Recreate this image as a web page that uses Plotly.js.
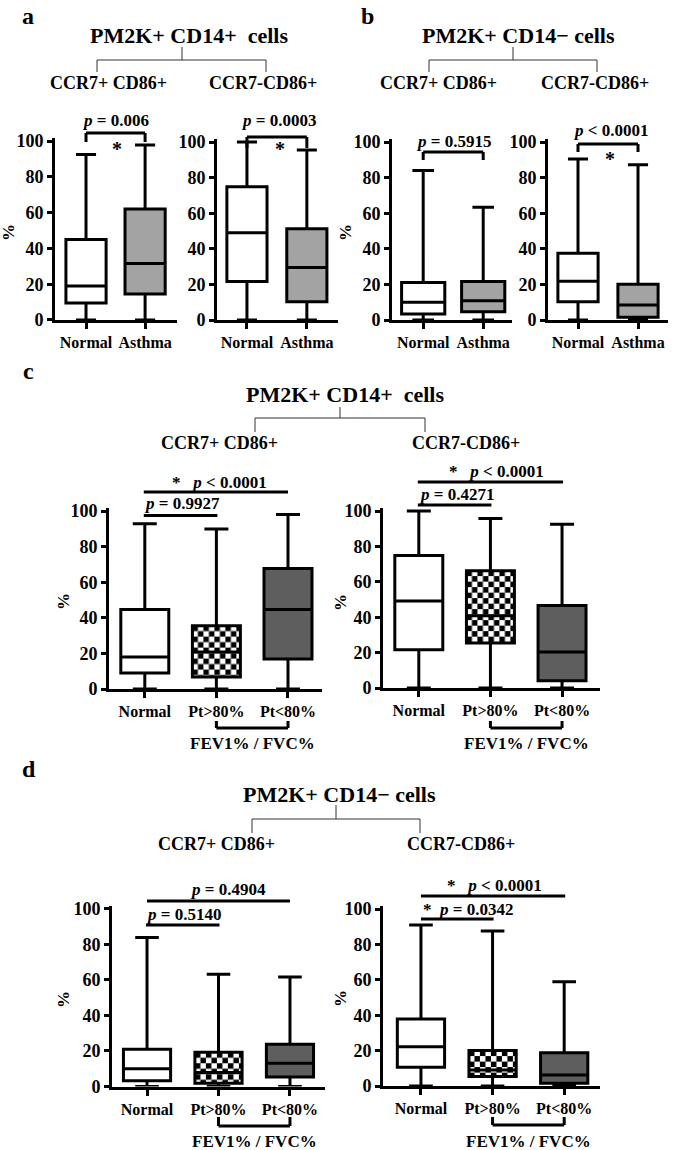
<!DOCTYPE html>
<html><head><meta charset="utf-8">
<script src="https://cdn.plot.ly/plotly-3.0.1.min.js"></script>
<style>html,body{margin:0;padding:0;background:#fff}#g{width:675px;height:1150px}</style>
</head><body><div id="g"></div>
<script>
// ---------- data ----------
const catsAB = ['Normal', 'Asthma'];
const catsCD = ['Normal', 'Pt>80%', 'Pt<80%'];
const yTicks = [0, 20, 40, 60, 80, 100];

// a: PM2K+ CD14+ cells, CCR7+ CD86+
const a1_upper = [92.4, 97.7], a1_q3 = [45, 62], a1_med = [19, 31.5], a1_q1 = [9.5, 14.5], a1_lower = [0, 0];
// a: PM2K+ CD14+ cells, CCR7-CD86+
const a2_upper = [100, 95.5], a2_q3 = [74.8, 51.2], a2_med = [49, 29.5], a2_q1 = [21.6, 10.3], a2_lower = [0, 0];
// b: PM2K+ CD14- cells, CCR7+ CD86+
const b1_upper = [84, 63.4], b1_q3 = [21, 21.6], b1_med = [10, 10.8], b1_q1 = [3.4, 4.7], b1_lower = [0, 0];
// b: PM2K+ CD14- cells, CCR7-CD86+
const b2_upper = [90.5, 87.2], b2_q3 = [37.5, 20.1], b2_med = [21.8, 8.4], b2_q1 = [10.2, 1.5], b2_lower = [0, 0];
// c: PM2K+ CD14+ cells, CCR7+ CD86+
const c1_upper = [92.9, 89.9, 98], c1_q3 = [44.6, 35.6, 67.7], c1_med = [18, 20.8, 44.6], c1_q1 = [9, 6.8, 16.9], c1_lower = [0, 0, 0];
// c: PM2K+ CD14+ cells, CCR7-CD86+
const c2_upper = [100, 95.7, 92.5], c2_q3 = [74.8, 66.3, 46.6], c2_med = [49.2, 40.8, 20.3], c2_q1 = [21.6, 25.4, 4.1], c2_lower = [0, 0, 0];
// d: PM2K+ CD14- cells, CCR7+ CD86+
const d1_upper = [84, 63.2, 61.7], d1_q3 = [21, 19.3, 23.8], d1_med = [10, 7.9, 13.1], d1_q1 = [3.2, 1.9, 5.3], d1_lower = [0, 0, 0];
// d: PM2K+ CD14- cells, CCR7-CD86+
const d2_upper = [91, 87.6, 58.9], d2_q3 = [37.9, 20, 18.8], d2_med = [22.2, 9, 6.2], d2_q1 = [10.6, 5.3, 1.5], d2_lower = [0, 0, 0];

const pA = ['<i>p</i> = 0.006', '<i>p</i> = 0.0003'];
const pB = ['<i>p</i> = 0.5915', '<i>p</i> &lt; 0.0001'];
const pC = ['*\u00a0\u00a0\u00a0<i>p</i> &lt; 0.0001', '<i>p</i> = 0.9927', '*\u00a0\u00a0\u00a0<i>p</i> &lt; 0.0001', '<i>p</i> = 0.4271'];
const pD = ['<i>p</i> = 0.4904', '<i>p</i> = 0.5140', '*\u00a0\u00a0\u00a0<i>p</i> &lt; 0.0001', '*\u00a0\u00a0<i>p</i> = 0.0342'];

const titlePos = 'PM2K+ CD14+\u00a0\u00a0cells';
const titleNeg = 'PM2K+ CD14\u2212\u00a0cells';
const subLabels = ['CCR7+ CD86+', 'CCR7-CD86+'];
const fevLabel = 'FEV1% / FVC%';

// ---------- styling / layout ----------
const W = 675, H = 1150;
const FONT = 'Liberation Serif, Times New Roman, serif';
const fillAB = ['#ffffff', '#a3a3a3'];
const fillCD = ['#ffffff', 'checker', '#5e5e5e'];

const panels = [
  {cats: catsAB, up: a1_upper, q3: a1_q3, med: a1_med, q1: a1_q1, lo: a1_lower, fills: fillAB, xpx: [55, 177], ypx: [141, 320], xr: [-0.525, 1.54], bw: 0.68, pct: [9, 233]},
  {cats: catsAB, up: a2_upper, q3: a2_q3, med: a2_med, q1: a2_q1, lo: a2_lower, fills: fillAB, xpx: [217, 338], ypx: [142, 320], xr: [-0.5, 1.52], bw: 0.67, pct: null},
  {cats: catsAB, up: b1_upper, q3: b1_q3, med: b1_med, q1: b1_q1, lo: b1_lower, fills: fillAB, xpx: [392, 512], ypx: [142, 320], xr: [-0.52, 1.48], bw: 0.72, pct: [346, 233]},
  {cats: catsAB, up: b2_upper, q3: b2_q3, med: b2_med, q1: b2_q1, lo: b2_lower, fills: fillAB, xpx: [548, 668], ypx: [142, 320], xr: [-0.5, 1.5], bw: 0.67, pct: null},
  {cats: catsCD, up: c1_upper, q3: c1_q3, med: c1_med, q1: c1_q1, lo: c1_lower, fills: fillCD, xpx: [109, 322], ypx: [511, 689], xr: [-0.5, 2.475], bw: 0.67, pct: [63, 602]},
  {cats: catsCD, up: c2_upper, q3: c2_q3, med: c2_med, q1: c2_q1, lo: c2_lower, fills: fillCD, xpx: [383, 600], ypx: [511, 688], xr: [-0.5, 2.53], bw: 0.67, pct: [340, 602]},
  {cats: catsCD, up: d1_upper, q3: d1_q3, med: d1_med, q1: d1_q1, lo: d1_lower, fills: fillCD, xpx: [112, 325], ypx: [909, 1086.5], xr: [-0.49, 2.49], bw: 0.66, pct: [63, 1000]},
  {cats: catsCD, up: d2_upper, q3: d2_q3, med: d2_med, q1: d2_q1, lo: d2_lower, fills: fillCD, xpx: [383, 600], ypx: [909, 1086], xr: [-0.53, 2.5], bw: 0.66, pct: [340, 998]}
];

const data = [], shapes = [], annotations = [], images = [];
const layout = {
  width: W, height: H, margin: {l: 0, r: 0, t: 0, b: 0},
  paper_bgcolor: '#ffffff', plot_bgcolor: 'rgba(0,0,0,0)',
  showlegend: false, boxmode: 'overlay',
  font: {family: FONT, color: '#000'}
};

function fx(px) { return px / W; }
function fy(py) { return 1 - py / H; }

function checker(w, h) {
  const s = 5.5, t = 2 * s;
  const svg = `<svg xmlns="http://www.w3.org/2000/svg" width="${w.toFixed(1)}" height="${h.toFixed(1)}" viewBox="0 0 ${w.toFixed(1)} ${h.toFixed(1)}" preserveAspectRatio="none">` +
    `<defs><pattern id="k" width="${t}" height="${t}" patternUnits="userSpaceOnUse">` +
    `<rect width="${t}" height="${t}" fill="#fff"/><rect width="${s}" height="${s}" fill="#000"/><rect x="${s}" y="${s}" width="${s}" height="${s}" fill="#000"/>` +
    `</pattern></defs><rect width="100%" height="100%" fill="url(#k)"/></svg>`;
  return 'data:image/svg+xml;charset=utf-8,' + encodeURIComponent(svg);
}

function txt(text, x, y, size, extra) {
  annotations.push(Object.assign({
    text: '<b>' + text + '</b>', xref: 'paper', yref: 'paper', x: fx(x), y: fy(y),
    xanchor: 'center', yanchor: 'middle', showarrow: false,
    font: {family: FONT, size: size, color: '#000'}
  }, extra || {}));
}
function line(x0, y0, x1, y1, w, c) {
  shapes.push({type: 'line', xref: 'paper', yref: 'paper', x0: fx(x0), y0: fy(y0), x1: fx(x1), y1: fy(y1),
    line: {color: c || '#000', width: w}});
}
function bracketDown(x0, x1, yTop, yEnd, w, c) {
  line(x0, yTop, x1, yTop, w, c);
  line(x0, yTop, x0, yEnd, w, c);
  line(x1, yTop, x1, yEnd, w, c);
}

panels.forEach((p, k) => {
  const sfx = k === 0 ? '' : String(k + 1);
  const yPerUnit = (p.ypx[1] - p.ypx[0]) / 100;
  const yTopPx = p.ypx[0] - 1.5 * yPerUnit;
  const pxPerX = (p.xpx[1] - p.xpx[0]) / (p.xr[1] - p.xr[0]);
  p.catPx = i => p.xpx[0] + (i - p.xr[0]) * pxPerX;

  layout['xaxis' + sfx] = {
    domain: [p.xpx[0] / W, p.xpx[1] / W], anchor: 'y' + sfx,
    type: 'category', categoryorder: 'array', categoryarray: p.cats, range: p.xr,
    showline: true, linewidth: 3, linecolor: '#000', mirror: false,
    ticks: 'outside', ticklen: 6, tickwidth: 3, tickcolor: '#000',
    showgrid: false, zeroline: false, fixedrange: true,
    tickfont: {family: FONT, size: 16, color: '#000', weight: 'bold'}
  };
  layout['yaxis' + sfx] = {
    domain: [1 - p.ypx[1] / H, 1 - yTopPx / H], anchor: 'x' + sfx,
    range: [0, 101.5], tickvals: yTicks, ticktext: yTicks.map(String),
    showline: true, linewidth: 3, linecolor: '#000',
    ticks: 'outside', ticklen: 5, tickwidth: 3, tickcolor: '#000',
    showgrid: false, zeroline: false, fixedrange: true,
    tickfont: {family: FONT, size: 18, color: '#000', weight: 'bold'}
  };

  p.cats.forEach((c, i) => {
    const fill = p.fills[i];
    data.push({
      type: 'box', x: [c], q1: [p.q1[i]], median: [p.med[i]], q3: [p.q3[i]],
      lowerfence: [p.lo[i]], upperfence: [p.up[i]],
      xaxis: 'x' + sfx, yaxis: 'y' + sfx, width: p.bw, whiskerwidth: 0.5,
      fillcolor: fill === 'checker' ? 'rgba(0,0,0,0)' : fill,
      line: {color: '#000', width: 3}, boxpoints: false, hoverinfo: 'skip'
    });
    if (fill === 'checker') {
      const wpx = p.bw * pxPerX, hpx = (p.q3[i] - p.q1[i]) * yPerUnit;
      images.push({
        source: checker(wpx, hpx), xref: 'x' + sfx, yref: 'y' + sfx,
        x: i - p.bw / 2, y: p.q3[i], sizex: p.bw, sizey: p.q3[i] - p.q1[i],
        xanchor: 'left', yanchor: 'top', sizing: 'stretch', layer: 'below'
      });
    }
  });

  if (p.pct) txt('%', p.pct[0], p.pct[1], 17, {textangle: -90});
});

// ---------- panel letters, titles, hierarchy brackets ----------
txt('a', 28, 16, 24); txt('b', 367, 16, 24); txt('c', 28, 371, 24); txt('d', 29, 769, 24);

txt(titlePos, 189, 35, 22);
bracketDown(97, 266, 60, 72, 1, '#333'); line(182, 47, 182, 60, 1, '#333');
txt(subLabels[0], 108, 83, 18); txt(subLabels[1], 263, 83, 18);

txt(titleNeg, 518, 35, 22);
bracketDown(429, 597, 60, 72, 1, '#333'); line(513, 47, 513, 60, 1, '#333');
txt(subLabels[0], 438, 83, 18); txt(subLabels[1], 595, 83, 18);

txt(titlePos, 345, 394, 22);
bracketDown(255, 425, 418, 432, 1, '#333'); line(340, 407, 340, 418, 1, '#333');
txt(subLabels[0], 219, 443, 18); txt(subLabels[1], 466, 443, 18);

txt(titleNeg, 339, 794, 22);
bracketDown(252, 420, 819, 833, 1, '#333'); line(336, 805, 336, 819, 1, '#333');
txt(subLabels[0], 216, 844, 18); txt(subLabels[1], 461, 844, 18);

// ---------- significance annotations ----------
const P = panels;
// a
txt(pA[0], 115, 121, 17); bracketDown(P[0].catPx(0), P[0].catPx(1), 133, 142, 3); txt('*', 117, 149, 20);
txt(pA[1], 278, 121, 17); bracketDown(P[1].catPx(0), P[1].catPx(1), 137, 148, 3); txt('*', 280, 149, 20);
// b
txt(pB[0], 453, 141, 17); bracketDown(P[2].catPx(0), P[2].catPx(1), 152, 160, 3);
txt(pB[1], 610, 130, 17); bracketDown(P[3].catPx(0), P[3].catPx(1), 144, 152, 3); txt('*', 610, 159, 20);
// c
txt(pC[0], 219, 482, 17); line(P[4].catPx(0) - 1, 492, P[4].catPx(2), 492, 3);
txt(pC[1], 182, 503, 17); line(P[4].catPx(0) - 1, 515.5, P[4].catPx(1) + 1, 515.5, 3);
txt(pC[2], 496, 471, 17); line(P[5].catPx(0) - 1, 482, P[5].catPx(2) + 1, 482, 3);
txt(pC[3], 457, 495, 17); line(P[5].catPx(0) - 1, 505, P[5].catPx(1) + 1, 505, 3);
// d
txt(pD[0], 228, 889, 17); line(P[6].catPx(0), 901, P[6].catPx(2), 901, 3);
txt(pD[1], 183, 914, 17); line(P[6].catPx(0) - 1, 925, P[6].catPx(1) + 1, 925, 3);
txt(pD[2], 495, 885, 17); line(P[7].catPx(0), 896, P[7].catPx(2) + 1, 896, 3);
txt(pD[3], 468, 909, 17); line(P[7].catPx(0), 919, P[7].catPx(1) + 1, 919, 3);

// ---------- FEV1%/FVC% brackets ----------
[[4, 721, 728, 743], [5, 721, 728, 743], [6, 1117, 1126, 1141], [7, 1117, 1125, 1141]].forEach(([k, yA, yB, yT]) => {
  const x1 = P[k].catPx(1), x2 = P[k].catPx(2);
  bracketDown(x1, x2, yB, yA, 3);
  txt(fevLabel, (x1 + x2) / 2, yT, 17);
});

layout.shapes = shapes;
layout.annotations = annotations;
layout.images = images;

Plotly.newPlot('g', data, layout, {staticPlot: true, displayModeBar: false});
</script>
</body></html>
